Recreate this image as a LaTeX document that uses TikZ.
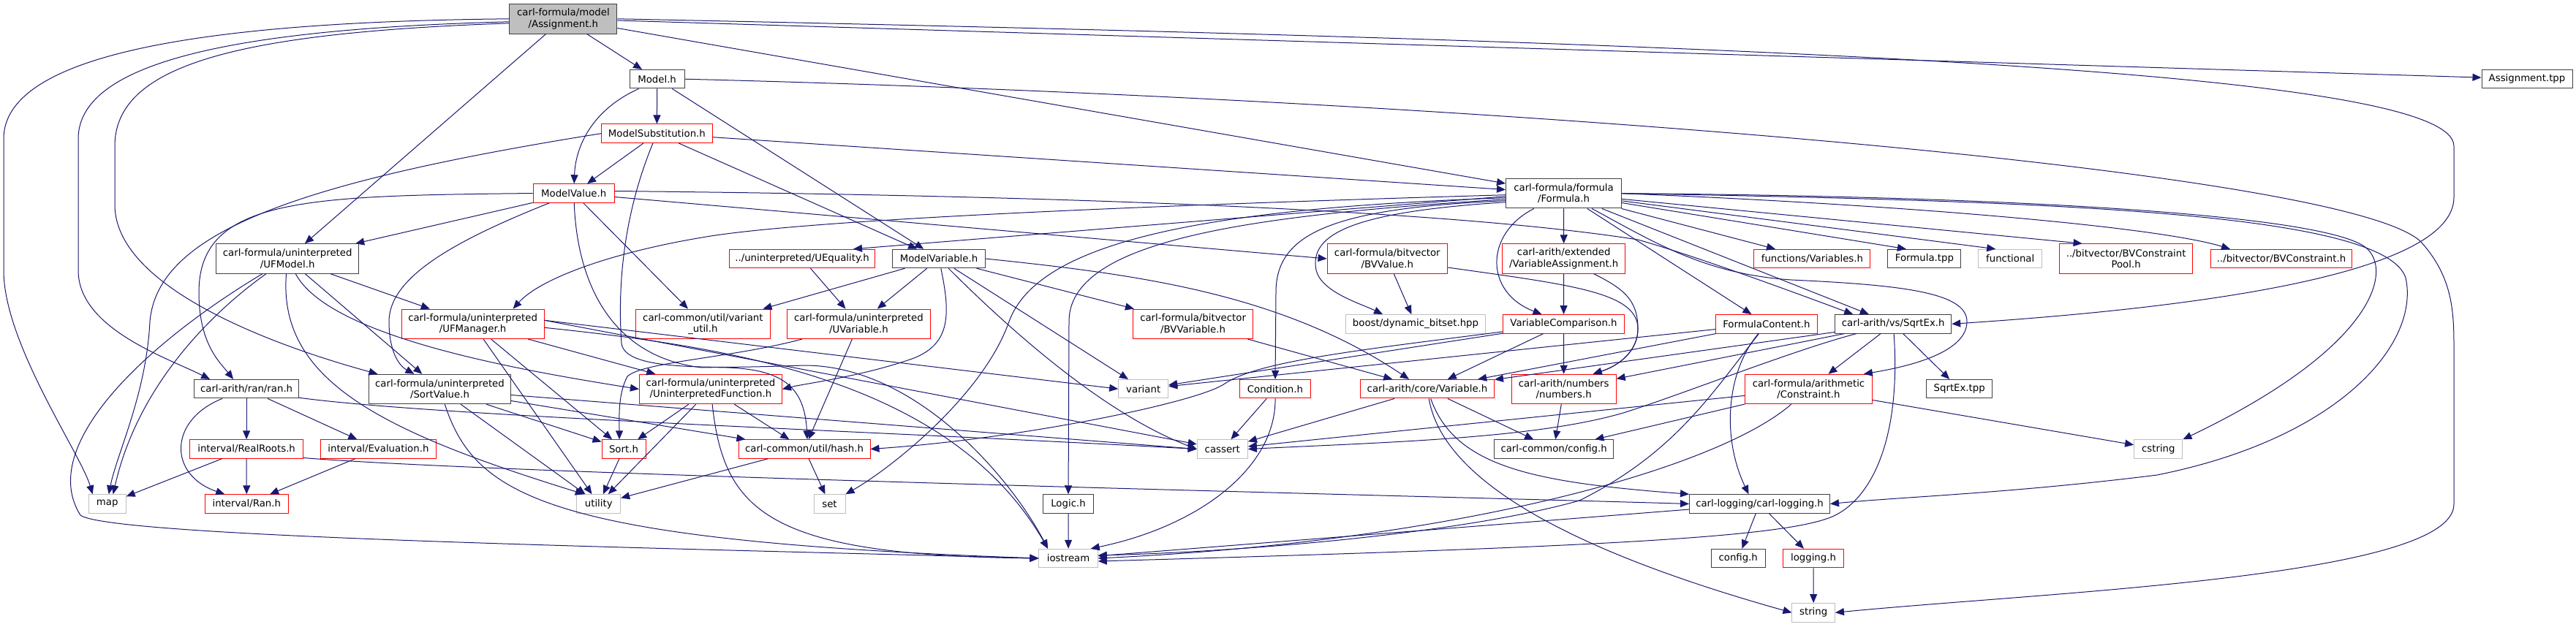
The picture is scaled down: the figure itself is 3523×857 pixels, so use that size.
\documentclass[tikz,border=0pt]{standalone}
\usepackage{fontspec}
\setmainfont{DejaVu Sans}
\usetikzlibrary{arrows.meta}
\definecolor{edgeblue}{RGB}{25,25,112}
\definecolor{sysgray}{RGB}{191,191,191}
\definecolor{hdrgray}{RGB}{64,64,64}

\begin{document}
\begin{tikzpicture}[x=1pt, y=-1pt,
    hdr/.style={draw=hdrgray, fill=white, line width=1pt, inner xsep=2pt, inner ysep=0pt,
        minimum height=25.5pt, align=center, font=\fontsize{13.3}{15.5}\selectfont},
    twoline/.style={minimum height=40.5pt},
    trunc/.style={hdr, draw=red},
    sys/.style={hdr, draw=sysgray},
    rootnode/.style={hdr, fill=sysgray},
    dep/.style={-{Triangle[length=12pt,width=10pt]}, color=edgeblue, line width=1pt},
]
    \fill[white] (0,0) rectangle (3523,857);
    \useasboundingbox (0,0) rectangle (3523,857);

    \node[rootnode, twoline, minimum width=147pt] (assign) at (770.4,25.8) {carl-formula/model\\/Assignment.h};
    \node[hdr, minimum width=75pt] (model) at (898.6,108.2) {Model.h};
    \node[hdr, minimum width=124pt] (atpp) at (3456,108) {Assignment.tpp};
    \node[trunc, minimum width=152pt] (msubst) at (898.4,182.7) {ModelSubstitution.h};
    \node[trunc, minimum width=111pt] (mvalue) at (784.7,264.5) {ModelValue.h};
    \node[hdr, twoline, minimum width=158pt] (formula) at (2138.5,264.7) {carl-formula/formula\\/Formula.h};

    \node[hdr, twoline, minimum width=195pt] (ufmodel) at (393.2,354) {carl-formula/uninterpreted\\/UFModel.h};
    \node[trunc, minimum width=199pt] (uequal) at (1097,354) {../uninterpreted/UEquality.h};
    \node[hdr, minimum width=127pt] (mvar) at (1284,354) {ModelVariable.h};
    \node[trunc, twoline, minimum width=164.5pt] (bvvalue) at (1897.3,354) {carl-formula/bitvector\\/BVValue.h};
    \node[trunc, twoline, minimum width=168.4pt] (varassign) at (2138.7,354) {carl-arith/extended\\/VariableAssignment.h};
    \node[trunc, minimum width=159pt] (fvars) at (2478.4,354) {functions/Variables.h};
    \node[hdr, minimum width=100pt] (ftpp) at (2631.9,354) {Formula.tpp};
    \node[sys, minimum width=87pt] (functional) at (2749.2,354) {functional};
    \node[trunc, twoline, minimum width=182pt] (bvcpool) at (2907.6,354) {../bitvector/BVConstraint\\Pool.h};
    \node[trunc, minimum width=193.5pt] (bvcons) at (3120,354) {../bitvector/BVConstraint.h};

    \node[trunc, twoline, minimum width=195pt] (ufmanager) at (646.6,443.3) {carl-formula/uninterpreted\\/UFManager.h};
    \node[trunc, twoline, minimum width=183.3pt] (varutil) at (961.4,443.3) {carl-common/util/variant\\\_util.h};
    \node[trunc, twoline, minimum width=195.3pt] (uvar) at (1174.4,443.3) {carl-formula/uninterpreted\\/UVariable.h};
    \node[trunc, twoline, minimum width=164pt] (bvvar) at (1631.6,443.3) {carl-formula/bitvector\\/BVVariable.h};
    \node[sys, minimum width=191pt] (bitset) at (1936,443.3) {boost/dynamic\_bitset.hpp};
    \node[trunc, minimum width=165.7pt] (varcomp) at (2138.5,443.3) {VariableComparison.h};
    \node[trunc, minimum width=139pt] (fcontent) at (2415.9,443.3) {FormulaContent.h};
    \node[hdr, minimum width=159pt] (sqrtex) at (2589.2,443.3) {carl-arith/vs/SqrtEx.h};

    \node[hdr, minimum width=142.4pt] (ran) at (337.1,532.2) {carl-arith/ran/ran.h};
    \node[hdr, twoline, minimum width=194.3pt] (sortvalue) at (601.5,532.5) {carl-formula/uninterpreted\\/SortValue.h};
    \node[trunc, twoline, minimum width=195pt] (uifunc) at (971.9,532.5) {carl-formula/uninterpreted\\/UninterpretedFunction.h};
    \node[sys, minimum width=68pt] (variant) at (1563.7,532.2) {variant};
    \node[trunc, minimum width=96.3pt] (condition) at (1743.9,532.2) {Condition.h};
    \node[trunc, minimum width=183pt] (variable) at (1952,532.2) {carl-arith/core/Variable.h};
    \node[trunc, twoline, minimum width=143pt] (numbers) at (2138.7,532.5) {carl-arith/numbers\\/numbers.h};
    \node[trunc, twoline, minimum width=173.7pt] (constraint) at (2473.5,532.5) {carl-formula/arithmetic\\/Constraint.h};
    \node[hdr, minimum width=89.6pt] (sqrtextpp) at (2679.7,532.2) {SqrtEx.tpp};

    \node[trunc, minimum width=154.6pt] (realroots) at (337.1,614.5) {interval/RealRoots.h};
    \node[trunc, minimum width=157.7pt] (evaluation) at (517.4,614.5) {interval/Evaluation.h};
    \node[trunc, minimum width=60pt] (sort) at (853,614.5) {Sort.h};
    \node[trunc, minimum width=180pt] (hash) at (1100,614.5) {carl-common/util/hash.h};
    \node[sys, minimum width=69.2pt] (cassert) at (1671.8,614.5) {cassert};
    \node[hdr, minimum width=163.4pt] (cconfig) at (2125.1,614.5) {carl-common/config.h};
    \node[sys, minimum width=66.3pt] (cstring) at (2951.8,614.5) {cstring};

    \node[sys, minimum width=51pt] (map) at (146.7,689.5) {map};
    \node[trunc, minimum width=113.6pt] (intran) at (337.3,689.5) {interval/Ran.h};
    \node[sys, minimum width=59.7pt] (utility) at (818.8,689.5) {utility};
    \node[sys, minimum width=43pt] (set) at (1134.5,689.5) {set};
    \node[hdr, minimum width=68.5pt] (logic) at (1461,689.5) {Logic.h};
    \node[hdr, minimum width=192pt] (logging) at (2406.5,689.5) {carl-logging/carl-logging.h};

    \node[sys, minimum width=80.3pt] (iostream) at (1461.1,764) {iostream};
    \node[hdr, minimum width=73.8pt] (config) at (2377.2,764) {config.h};
    \node[trunc, minimum width=83.5pt] (loggingh) at (2480,764) {logging.h};
    \node[sys, minimum width=58.5pt] (string) at (2480.2,838.3) {string};

    % Assignment.h
    \draw[dep] (assign) -- (model);
    \draw[dep] (assign) -- (ufmodel);
    \draw[dep] (assign) -- (formula);
    \draw[dep] (assign) -- (atpp);
    \draw[dep] (assign.west) .. controls (250,30) and (5,80) .. (5,190) -- (5,370) .. controls (5,470) and (110,620) .. ([xshift=-20pt]map.north);
    \draw[dep] ([yshift=-4pt]assign.west) .. controls (300,40) and (107,90) .. (107,190) -- (107,370) .. controls (107,450) and (230,490) .. ([xshift=-50pt]ran.north);
    \draw[dep] ([yshift=-6pt]assign.west) .. controls (320,45) and (157,90) .. (157,200) -- (157,280) .. controls (157,400) and (400,480) .. ([xshift=-85pt]sortvalue.north);
    \draw[dep] (assign.east) .. controls (2500,60) and (3356,100) .. (3356,200) -- (3356,270) .. controls (3356,360) and (3100,415) .. (sqrtex.east);

    % Model.h, ModelSubstitution.h
    \draw[dep] (model) -- (msubst);
    \draw[dep] ([xshift=-25pt]model.south) .. controls (810,150) and (787,200) .. (mvalue);
    \draw[dep] (model) -- (mvar);
    \draw[dep] (model.east) .. controls (2000,135) and (3200,230) .. (3310,330) .. controls (3356,380) and (3356,430) .. (3356,480) -- (3356,690) .. controls (3356,790) and (2800,810) .. (string.east);
    \draw[dep] (msubst) -- (mvalue);
    \draw[dep] (msubst) -- (mvar);
    \draw[dep] (msubst) -- (formula);
    \draw[dep] (msubst.west) .. controls (400,250) and (215,320) .. (205,440) .. controls (200,540) and (160,620) .. ([xshift=2pt]map.north);
    \draw[dep] (msubst) .. controls (850,300) and (845,400) .. (850,470) .. controls (855,505) and (950,505) .. (1100,500) .. controls (1250,500) and (1380,650) .. ([xshift=-28pt]iostream.north);

    % ModelValue.h
    \draw[dep] (mvalue.west) .. controls (420,268) and (272,270) .. (272,400) .. controls (272,470) and (300,495) .. ([xshift=-18pt]ran.north);
    \draw[dep] (mvalue) -- ([xshift=-5pt]ufmodel.north east);
    \draw[dep] (mvalue) .. controls (620,330) and (532,380) .. (532,440) .. controls (532,480) and (545,500) .. ([xshift=-35pt]sortvalue.north);
    \draw[dep] (mvalue) .. controls (790,400) and (845,490) .. (960,503) .. controls (1060,500) and (1100,520) .. ([xshift=4pt]hash.north);
    \draw[dep] (mvalue) -- (varutil);
    \draw[dep] ([yshift=-5pt]mvalue.east) -- (bvvalue.west);
    \draw[dep] ([yshift=3pt]mvalue.east) .. controls (1500,268) and (2000,290) .. (2240,328) .. controls (2300,345) and (2400,380) .. ([xshift=-55pt]sqrtex.north);

    % Formula.h
    \draw[dep] ([yshift=-2pt]formula.west) .. controls (1600,280) and (1100,300) .. (960,325) .. controls (840,345) and (740,380) .. ([xshift=55pt]ufmanager.north);
    \draw[dep] ([yshift=-4pt]formula.west) -- ([xshift=-30pt]uequal.north east);
    \draw[dep] ([yshift=-6pt]formula.west) .. controls (1650,285) and (1420,330) .. (1380,440) .. controls (1345,540) and (1220,640) .. (set.north east);
    \draw[dep] ([yshift=-8pt]formula.west) .. controls (1700,295) and (1462,330) .. (1462,440) -- (logic);
    \draw[dep] ([yshift=-10pt]formula.west) .. controls (1820,285) and (1745,320) .. (1745,400) -- (condition);
    \draw[dep] ([yshift=-12pt]formula.west) .. controls (1850,290) and (1790,320) .. (1800,370) .. controls (1808,400) and (1860,415) .. ([xshift=-45pt]bitset.north);
    \draw[dep] (formula) .. controls (2030,320) and (2030,400) .. ([xshift=-30pt]varcomp.north);
    \draw[dep] (formula) -- (varassign);
    \draw[dep] (formula) -- (fcontent);
    \draw[dep] (formula) -- (sqrtex);
    \draw[dep] (formula) .. controls (2260,330) and (2330,375) .. (2450,383) .. controls (2600,390) and (2690,400) .. (2690,440) .. controls (2690,480) and (2620,500) .. ([xshift=-12pt]constraint.north east);
    \draw[dep] (formula) -- (fvars);
    \draw[dep] (formula) -- ([xshift=-25pt]ftpp.north);
    \draw[dep] (formula) -- ([xshift=-20pt]functional.north);
    \draw[dep] (formula) -- ([xshift=-60pt]bvcpool.north);
    \draw[dep] (formula.east) .. controls (2600,280) and (2950,310) .. ([xshift=-70pt]bvcons.north);
    \draw[dep] (formula.east) .. controls (2700,268) and (3150,290) .. (3230,335) .. controls (3275,360) and (3260,470) .. (cstring.north east);
    \draw[dep] (formula.east) .. controls (2800,275) and (3260,290) .. (3290,380) .. controls (3310,470) and (3200,600) .. (2950,650) .. controls (2750,675) and (2600,680) .. (logging.east);

    % UFModel.h, UFManager.h
    \draw[dep] (ufmodel) -- (ufmanager);
    \draw[dep] (ufmodel) .. controls (200,470) and (50,610) .. (110,705) .. controls (150,735) and (900,750) .. (iostream.west);
    \draw[dep] (ufmodel) .. controls (300,420) and (190,520) .. ([xshift=8pt]map.north);
    \draw[dep] (ufmodel) .. controls (380,520) and (520,590) .. ([xshift=-20pt]utility.north);
    \draw[dep] (ufmodel) -- (sortvalue);
    \draw[dep] (ufmodel) .. controls (450,460) and (700,505) .. (uifunc.west);
    \draw[dep] (ufmanager) -- (utility);
    \draw[dep] (ufmanager) -- (sort);
    \draw[dep] (ufmanager) -- (uifunc);
    \draw[dep] ([yshift=5pt]ufmanager.east) -- (cassert);
    \draw[dep] ([yshift=5pt]ufmanager.east) -- (variant.west);
    \draw[dep] ([yshift=-5pt]ufmanager.east) .. controls (1000,475) and (1300,520) .. ([xshift=-28pt]iostream.north);

    % uninterpreted
    \draw[dep] (uifunc) -- (sort);
    \draw[dep] (uifunc) -- (utility);
    \draw[dep] (uifunc) -- (hash);
    \draw[dep] (uifunc) .. controls (990,700) and (1050,760) .. (iostream.west);
    \draw[dep] (sortvalue) -- (sort);
    \draw[dep] (sortvalue) -- (utility);
    \draw[dep] (sortvalue) -- (hash);
    \draw[dep] ([yshift=-8pt]sortvalue.east) -- (cassert.west);
    \draw[dep] (sortvalue) .. controls (650,680) and (750,740) .. (iostream.west);
    \draw[dep] (uequal) -- (uvar);
    \draw[dep] (uvar) -- (hash);
    \draw[dep] (uvar) .. controls (1000,490) and (880,495) .. (858,515) .. controls (845,540) and (847,570) .. ([xshift=-6pt]sort.north);
    \draw[dep] (sort) -- (utility);
    \draw[dep] (hash) -- (utility);
    \draw[dep] (hash) -- (set);

    % ran.h
    \draw[dep] (ran) .. controls (230,575) and (230,650) .. ([xshift=-30pt]intran.north);
    \draw[dep] (ran) -- (realroots);
    \draw[dep] (ran) -- (evaluation);
    \draw[dep] ([yshift=-12pt]ran.east) .. controls (600,570) and (1200,590) .. (cassert.west);
    \draw[dep] (realroots) -- (map);
    \draw[dep] (realroots) -- (intran);
    \draw[dep] ([yshift=-12pt]realroots.east) .. controls (700,650) and (2000,680) .. (logging.west);
    \draw[dep] (evaluation) -- (intran);

    % ModelVariable.h
    \draw[dep] (mvar) -- ([xshift=-10pt]varutil.north east);
    \draw[dep] (mvar) -- (uvar);
    \draw[dep] (mvar) .. controls (1300,430) and (1300,470) .. (1250,490) .. controls (1180,515) and (1100,525) .. (uifunc.east);
    \draw[dep] (mvar) .. controls (1400,470) and (1520,570) .. (cassert.west);
    \draw[dep] (mvar) -- (variant);
    \draw[dep] (mvar) -- (bvvar);
    \draw[dep] (mvar.east) .. controls (1550,375) and (1750,400) .. ([xshift=-25pt]variable.north);

    % bitvector, extended
    \draw[dep] (bvvalue) -- (bitset);
    \draw[dep] ([yshift=-12pt]bvvalue.east) .. controls (2150,390) and (2240,400) .. (2240,450) .. controls (2240,480) and (2215,500) .. ([xshift=40pt]numbers.north);
    \draw[dep] (varassign) .. controls (2220,395) and (2240,410) .. (2240,450) .. controls (2240,480) and (2215,500) .. ([xshift=40pt]numbers.north);
    \draw[dep] (varassign) -- (varcomp);
    \draw[dep] (bvvar) -- (variable);
    \draw[dep] (varcomp) -- (numbers);
    \draw[dep] (varcomp) -- (variable);
    \draw[dep] (varcomp) -- (variant);
    \draw[dep] (varcomp) .. controls (1850,480) and (1720,495) .. (1675,525) .. controls (1640,550) and (1400,600) .. (hash.east);

    % FormulaContent.h, SqrtEx.h, Constraint.h
    \draw[dep] (fcontent) -- (variant);
    \draw[dep] (fcontent) -- (variable);
    \draw[dep] (fcontent) .. controls (2360,510) and (2355,600) .. ([xshift=-15pt]logging.north);
    \draw[dep] (fcontent) .. controls (2340,540) and (2290,620) .. (2160,685) .. controls (2000,730) and (1700,755) .. ([yshift=4pt]iostream.east);
    \draw[dep] (sqrtex) -- (numbers);
    \draw[dep] (sqrtex) -- (variable);
    \draw[dep] (sqrtex) .. controls (2450,480) and (2300,540) .. (2220,565) .. controls (2100,600) and (1900,605) .. (cassert.east);
    \draw[dep] (sqrtex) -- (constraint);
    \draw[dep] (sqrtex) -- (sqrtextpp);
    \draw[dep] (sqrtex) .. controls (2600,600) and (2560,680) .. (2510,705) .. controls (2450,735) and (2200,748) .. ([yshift=-4pt]iostream.east);
    \draw[dep] (constraint) -- (cstring);
    \draw[dep] (constraint) .. controls (2350,640) and (2000,740) .. (iostream.east);
    \draw[dep] (constraint) -- (cconfig);
    \draw[dep] (constraint) -- (cassert);

    % core
    \draw[dep] (variable) -- (cassert);
    \draw[dep] (variable) -- (cconfig);
    \draw[dep] (variable) .. controls (1970,640) and (2100,740) .. (string.west);
    \draw[dep] (variable) .. controls (1990,640) and (2100,660) .. (logging.north west);
    \draw[dep] (numbers) -- (cconfig);
    \draw[dep] (condition) -- (cassert);
    \draw[dep] (condition) .. controls (1745,640) and (1640,720) .. ([xshift=-10pt]iostream.north east);
    \draw[dep] (logic) -- (iostream);

    % logging
    \draw[dep] (logging) -- (iostream);
    \draw[dep] (logging) -- (config);
    \draw[dep] (logging) -- (loggingh);
    \draw[dep] (loggingh) -- (string);
\end{tikzpicture}
\end{document}
